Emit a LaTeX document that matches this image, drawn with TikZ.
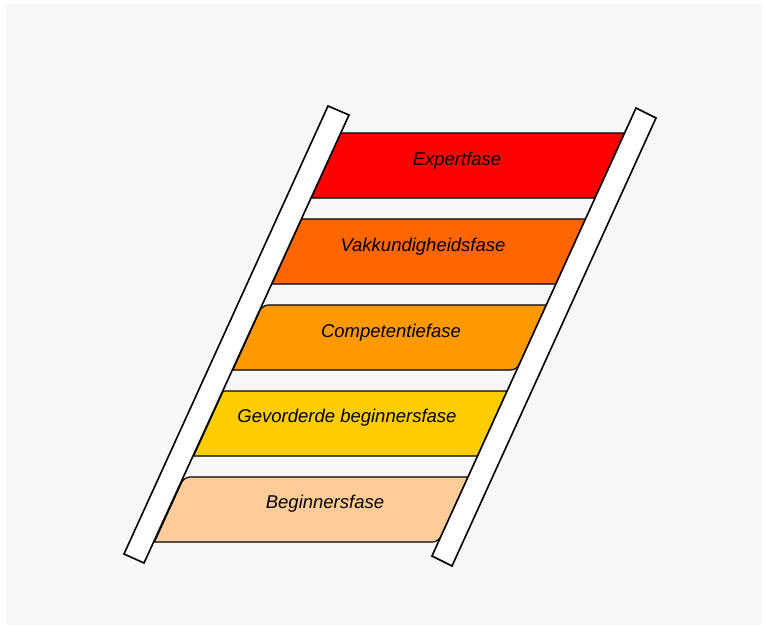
\documentclass[tikz,border=0pt]{standalone}
\usepackage{fontspec}
\setmainfont{Liberation Sans}
\definecolor{bggray}{HTML}{F7F7F7}
\definecolor{expertred}{HTML}{FF0000}
\definecolor{vakorange}{HTML}{FF6600}
\definecolor{comporange}{HTML}{FF9900}
\definecolor{gevyellow}{HTML}{FFCC00}
\definecolor{beginpeach}{HTML}{FFCC99}
\tikzset{
  rail/.style={draw,fill=white,line width=1.6pt,line join=miter},
  rung/.style={draw,line width=1.2pt},
  phase/.style={font=\fontsize{18.5}{22}\selectfont\itshape,inner sep=0pt}
}

\begin{document}
\begin{tikzpicture}[x=1pt,y=-1pt]
    \useasboundingbox (0,0) rectangle (763,626);
    % — Background panel
    \fill[bggray] (6,4) rectangle (762,625);

    % — Rungs, top to bottom
    \draw[rung,fill=expertred]  (340.8,133) -- (624.6,133) -- (595.0,198) -- (311.2,198) -- cycle;
    \draw[rung,fill=vakorange]  (301.6,219) -- (585.5,219) -- (555.9,284) -- (272.0,284) -- cycle;
    \draw[rung,fill=comporange] (247.7,337.5) [rounded corners=6pt] -- (262.5,305) [sharp corners] -- (546.3,305)
                                [rounded corners=6pt] -- (516.7,370) [sharp corners] -- (232.9,370) -- cycle;
    \draw[rung,fill=gevyellow]  (223.3,391) -- (507.1,391) -- (477.5,456) -- (193.7,456) -- cycle;
    \draw[rung,fill=beginpeach] (169.3,509.5) [rounded corners=6pt] -- (184.1,477) [sharp corners] -- (468.0,477)
                                [rounded corners=6pt] -- (438.4,542) [sharp corners] -- (154.5,542) -- cycle;

    % — Ladder rails
    \draw[rail] (328,106) -- (349,115) -- (144,563) -- (124,554) -- cycle;
    \draw[rail] (636,108) -- (656,118) -- (452,566) -- (432,556) -- cycle;

    % — Phase labels
    \node[phase] (expert) at (457,161) {Expertfase};
    \node[phase] (vak)    at (423,247) {Vakkundigheidsfase};
    \node[phase] (comp)   at (391,333) {Competentiefase};
    \node[phase] (gev)    at (347,418) {Gevorderde beginnersfase};
    \node[phase] (begin)  at (325,504) {Beginnersfase};
\end{tikzpicture}
\end{document}
